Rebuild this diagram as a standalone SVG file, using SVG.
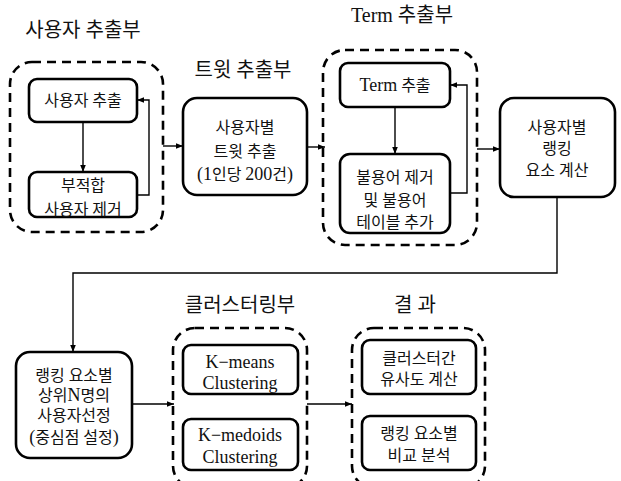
<svg xmlns="http://www.w3.org/2000/svg" width="621" height="481" viewBox="0 0 621 481">
<defs>
<marker id="ah" viewBox="0 0 10 10" refX="10" refY="5" markerWidth="7" markerHeight="7" markerUnits="userSpaceOnUse" orient="auto">
<path d="M0,1 L10,5 L0,9 z" fill="#000"/>
</marker>
<style>
.grp{fill:none;stroke:#000;stroke-width:2.6;stroke-dasharray:9 6}
.box{fill:#fff;stroke:#000;stroke-width:2.6}
.con{fill:none;stroke:#000;stroke-width:1.4;marker-end:url(#ah)}
text{font-family:"Liberation Serif","Noto Sans CJK KR",serif;fill:#111;text-anchor:middle;dominant-baseline:central}
.t{font-size:20px}
.b{font-size:16px}
.l{font-size:18px}
.lat{font-size:18px}
</style>
</defs>
<rect width="621" height="481" fill="#fff"/>
<g id="titles">
<text class="t" x="83" y="30">사용자 추출부</text>
<text class="t" x="243" y="70">트윗 추출부</text>
<text class="t" x="402" y="15">Term 추출부</text>
<text class="t" x="240" y="305">클러스터링부</text>
<text class="t" x="415" y="305">결 과</text>
</g>
<g id="group-user">
<rect class="grp" x="10" y="62" width="153" height="170" rx="22"/>
</g>
<g id="group-term">
<rect class="grp" x="323" y="50" width="154" height="195" rx="22"/>
</g>
<g id="group-cluster">
<rect class="grp" x="173" y="328" width="134" height="160" rx="22"/>
</g>
<g id="group-result">
<rect class="grp" x="352" y="328" width="133" height="160" rx="22"/>
</g>
<g id="n-user-extract">
<rect class="box" x="29" y="79" width="108" height="43" rx="8"/>
<text class="b" x="83" y="100">사용자 추출</text>
</g>
<g id="n-user-remove">
<rect class="box" x="29" y="172" width="108" height="45" rx="8"/>
<text class="b" x="83" y="185">부적합</text>
<text class="b" x="83" y="209">사용자 제거</text>
</g>
<g id="n-tweet">
<rect class="box" x="183" y="98" width="124" height="97" rx="14"/>
<text class="b" x="245" y="127">사용자별</text>
<text class="b" x="245" y="151">트윗 추출</text>
<text class="b" x="245" y="174"><tspan class="lat">(1</tspan>인당 <tspan class="lat">200</tspan>건<tspan class="lat">)</tspan></text>
</g>
<g id="n-term">
<rect class="box" x="340" y="63" width="110" height="44" rx="8"/>
<text class="b" x="395" y="85"><tspan class="lat">Term</tspan> 추출</text>
</g>
<g id="n-stopword">
<rect class="box" x="340" y="154" width="110" height="79" rx="10"/>
<text class="b" x="395" y="177">불용어 제거</text>
<text class="b" x="395" y="200">및 불용어</text>
<text class="b" x="395" y="222">테이블 추가</text>
</g>
<g id="n-rank-calc">
<rect class="box" x="500" y="98" width="115" height="99" rx="14"/>
<text class="b" x="557" y="127">사용자별</text>
<text class="b" x="557" y="148">랭킹</text>
<text class="b" x="557" y="170">요소 계산</text>
</g>
<g id="n-topn">
<rect class="box" x="16" y="352" width="116" height="106" rx="14"/>
<text class="b" x="74" y="375">랭킹 요소별</text>
<text class="b" x="74" y="395">상위<tspan class="lat">N</tspan>명의</text>
<text class="b" x="74" y="415">사용자선정</text>
<text class="b" x="74" y="437"><tspan class="lat">(</tspan>중심점 설정<tspan class="lat">)</tspan></text>
</g>
<g id="n-kmeans">
<rect class="box" x="183" y="345" width="115" height="49" rx="8"/>
<text class="l" x="240" y="362">K−means</text>
<text class="l" x="240" y="383">Clustering</text>
</g>
<g id="n-kmedoids">
<rect class="box" x="183" y="419" width="115" height="51" rx="8"/>
<text class="l" x="240" y="435">K−medoids</text>
<text class="l" x="240" y="457">Clustering</text>
</g>
<g id="n-similarity">
<rect class="box" x="362" y="340" width="114" height="54" rx="8"/>
<text class="b" x="419" y="358">클러스터간</text>
<text class="b" x="419" y="379">유사도 계산</text>
</g>
<g id="n-compare">
<rect class="box" x="362" y="416" width="114" height="54" rx="8"/>
<text class="b" x="419" y="433">랭킹 요소별</text>
<text class="b" x="419" y="455">비교 분석</text>
</g>
<g id="connectors">
<line class="con" x1="83" y1="122" x2="83" y2="172"/>
<polyline class="con" points="137,195 149,195 149,100 137,100"/>
<line class="con" x1="163" y1="146" x2="183" y2="146"/>
<line class="con" x1="307" y1="147" x2="325" y2="147"/>
<line class="con" x1="395" y1="107" x2="395" y2="154"/>
<polyline class="con" points="450,193 467,193 467,85 450,85"/>
<line class="con" x1="477" y1="149" x2="500" y2="149"/>
<polyline class="con" points="557,197 557,273 73,273 73,352"/>
<line class="con" x1="132" y1="404" x2="174" y2="404"/>
<line class="con" x1="307" y1="404" x2="352" y2="404"/>
</g>
</svg>
